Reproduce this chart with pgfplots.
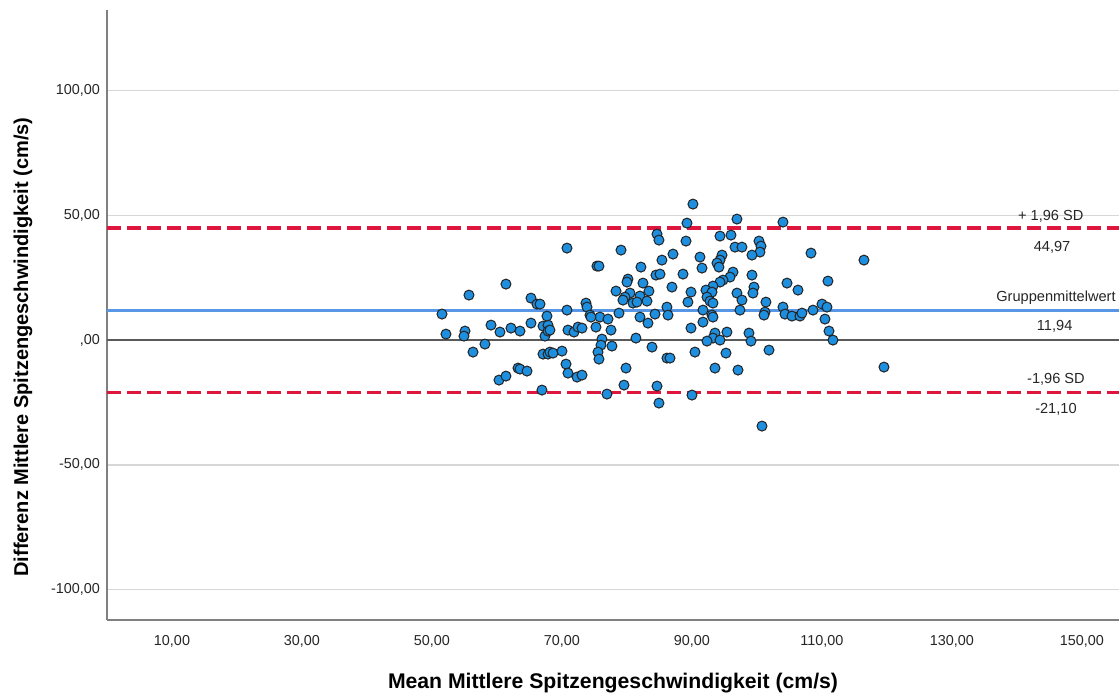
\documentclass[border=0pt]{standalone}
\usepackage{fontspec}
\setmainfont{Liberation Sans}
\usepackage{pgfplots}
\pgfplotsset{compat=1.18}

\definecolor{ptfill}{RGB}{30,142,222}
\definecolor{ptedge}{RGB}{35,35,35}
\definecolor{loaline}{RGB}{222,22,62}
\definecolor{meanline}{RGB}{88,150,230}
\definecolor{gridgray}{RGB}{215,215,215}
\definecolor{axisgray}{RGB}{128,128,128}
\definecolor{zerogray}{RGB}{90,90,90}

\begin{document}
\begin{tikzpicture}
\useasboundingbox (-53.5pt,-36.5pt) rectangle (506pt,310pt);
\begin{axis}[
  scale only axis,
  width=506pt, height=305pt,
  xmin=0, xmax=155.7,
  ymin=-112.2, ymax=132.3,
  axis x line=bottom, axis y line=left,
  axis line style={-, draw=axisgray, line width=0.8pt},
  major tick length=0pt,
  xtick={10,30,50,70,90,110,130,150},
  xticklabels={{10,00},{30,00},{50,00},{70,00},{90,00},{110,00},{130,00},{150,00}},
  ytick={-100,-50,0,50,100},
  yticklabels={{-100,00},{-50,00},{,00},{50,00},{100,00}},
  ymajorgrids,
  grid style={draw=gridgray, line width=0.8pt},
  tick label style={font=\fontsize{7.2}{8}\selectfont, text=black!85},
  xticklabel style={yshift=-4pt},
  yticklabel style={xshift=0pt},
  xlabel={\textbf{Mean Mittlere Spitzengeschwindigkeit (cm/s)}},
  ylabel={\textbf{Differenz Mittlere Spitzengeschwindigkeit (cm/s)}},
  xlabel style={font=\fontsize{10.6}{12}\selectfont, yshift=-6pt},
  ylabel style={font=\fontsize{10}{12}\selectfont, at={(ticklabel cs:0.4475)}, yshift=2.5pt},
  clip=false,
]
% zero reference line
\addplot[draw=zerogray, line width=0.6pt] coordinates {(0,0) (155.7,0)};
% mean difference and limits of agreement
\addplot[draw=meanline, line width=1.5pt] coordinates {(0,11.94) (155.7,11.94)};
\addplot[draw=loaline, line width=1.7pt, dash pattern=on 7pt off 3pt] coordinates {(0,44.97) (155.7,44.97)};
\addplot[draw=loaline, line width=1.7pt, dash pattern=on 7pt off 3pt] coordinates {(0,-21.10) (155.7,-21.10)};

% paired measurements: mean vs. difference
\addplot[only marks, mark=*, mark size=2.5pt,
  mark options={fill=ptfill, draw=ptedge, line width=0.5pt}] table {
x y
51.54 10.42
52.15 2.40
55.08 3.61
54.92 1.60
55.69 18.04
56.31 -4.81
58.15 -1.60
59.08 6.01
60.46 3.21
61.38 22.44
62.15 4.81
63.54 3.61
65.23 16.83
66.15 14.43
65.23 6.81
67.08 5.61
67.38 1.60
67.85 6.01
67.08 -5.61
67.85 -5.61
63.23 -11.22
63.54 -11.62
64.62 -12.42
60.31 -16.03
61.38 -14.43
66.92 -20.04
66.62 14.43
67.69 9.62
67.85 3.61
70.77 36.87
75.38 29.66
75.69 29.66
79.08 36.07
82.15 29.26
84.62 42.48
84.92 40.08
85.38 32.06
84.46 26.05
85.08 26.45
80.15 24.45
80.00 23.25
82.46 22.85
78.31 19.64
80.46 18.84
82.00 17.64
83.38 19.64
79.69 17.23
79.38 16.03
80.92 14.83
83.08 15.63
81.54 15.23
73.69 14.83
73.85 13.23
70.77 12.02
86.15 13.23
86.92 21.24
74.31 10.02
75.85 9.22
77.08 8.42
78.77 10.82
82.00 9.22
83.23 6.81
84.31 10.42
86.31 10.02
68.15 4.01
70.92 4.01
71.85 3.21
72.46 5.21
73.08 4.81
74.46 9.22
75.23 5.21
77.54 4.01
76.15 0.40
76.00 -2.00
75.54 -4.81
75.69 -7.62
77.69 -2.40
68.15 -4.81
68.62 -5.21
70.00 -4.41
70.62 -9.62
70.92 -13.23
72.31 -14.83
73.08 -14.03
76.92 -21.64
79.85 -11.22
79.54 -18.04
81.38 0.80
83.85 -2.81
86.15 -7.21
84.62 -18.44
84.92 -25.25
90.15 54.51
89.23 46.89
96.92 48.50
104.00 47.29
89.08 39.68
94.31 41.68
96.00 42.08
96.62 37.27
97.69 37.27
100.31 39.68
100.62 37.68
100.46 35.27
99.23 34.07
87.08 34.47
91.23 33.27
94.62 34.07
94.31 32.06
93.85 30.86
94.15 29.26
91.54 28.86
88.62 26.45
96.31 27.25
95.85 25.25
99.23 26.05
94.77 24.05
94.31 23.25
93.23 21.64
92.15 20.04
93.08 19.24
92.31 17.23
89.85 19.24
96.92 18.84
99.54 21.24
99.38 18.84
97.69 16.03
92.77 15.63
89.38 15.23
104.62 22.85
101.38 15.23
104.00 13.23
91.69 12.02
93.23 14.83
93.08 10.02
97.38 12.02
101.23 11.22
89.85 4.81
91.69 7.21
93.23 9.22
93.54 2.81
93.23 0.80
92.31 -0.40
94.31 0.00
95.38 3.21
98.77 2.81
99.08 -0.40
101.08 10.02
86.62 -7.21
90.46 -4.81
95.23 -5.21
101.85 -4.01
93.54 -11.22
97.08 -12.02
90.00 -22.04
100.77 -34.47
104.31 10.42
105.38 9.62
106.62 9.62
106.31 20.04
108.31 34.87
116.46 32.06
110.92 23.65
110.00 14.43
108.62 12.02
110.77 13.23
106.92 10.82
110.46 8.42
111.08 3.61
111.69 0.00
119.54 -10.82
};

% line annotations
\begin{scope}[font=\fontsize{7.3}{8.5}\selectfont, text=black!85]
\node at (axis cs:145.2,49.7) {+ 1,96 SD};
\node at (axis cs:145.4,37.0) {44,97};
\node at (axis cs:146.0,17.0) {Gruppenmittelwert};
\node at (axis cs:145.8,5.6) {11,94};
\node at (axis cs:146.0,-15.6) {-1,96 SD};
\node at (axis cs:146.0,-27.7) {-21,10};
\end{scope}
\end{axis}
\end{tikzpicture}
\end{document}
